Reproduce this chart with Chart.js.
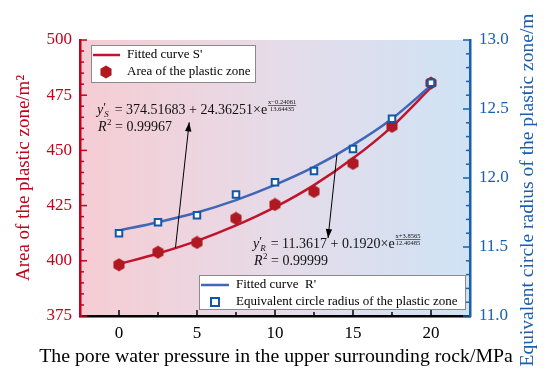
<!DOCTYPE html>
<html>
<head>
<meta charset="utf-8">
<script src="https://cdn.jsdelivr.net/npm/chart.js@4.4.1/dist/chart.umd.min.js"></script>
<style>
html,body{margin:0;padding:0;background:#fff;}
#wrap{width:550px;height:380px;position:relative;}
</style>
</head>
<body>
<div id="wrap"><canvas id="c" width="550" height="380"></canvas></div>
<script>
// ---- data ----
const xValues = [0, 2.5, 5, 7.5, 10, 12.5, 15, 17.5, 20];
const areaPoints = [398.2, 403.9, 408.3, 419.2, 425.5, 431.4, 444.1, 460.9, 480.5];
const radiusPoints = [11.60, 11.68, 11.73, 11.88, 11.97, 12.05, 12.21, 12.43, 12.69];
const areaCurve = [398.5, 403.3, 409.0, 416.0, 424.3, 434.3, 446.4, 460.8, 478.5];
const radiusCurve = [11.62, 11.68, 11.75, 11.84, 11.95, 12.08, 12.24, 12.43, 12.67];
const xTickLabels = [0, 5, 10, 15, 20];
const leftTickLabels = [375, 400, 425, 450, 475, 500];
const rightTickLabels = [11.0, 11.5, 12.0, 12.5, 13.0];

const RED = '#c0142c';
const RED_PT = '#b01822';
const BLUE_LINE = '#4166b8';
const BLUE_PT = '#0f58a8';
const AXIS_RED = '#c3001e';
const AXIS_BLUE = '#1a5fae';
const SERIF = '"Liberation Serif", "DejaVu Serif", serif';

function pts(xs, ys){ return xs.map((x,i)=>({x:x, y:ys[i]})); }

// hexagon point image
const hex = document.createElement('canvas');
hex.width = 14; hex.height = 14;
(function(){
  const c = hex.getContext('2d');
  c.fillStyle = RED_PT;
  c.beginPath();
  for (let i=0;i<6;i++){
    const a = Math.PI/6 + i*Math.PI/3;
    const px = 7 + 6.4*Math.cos(a), py = 7 + 6.4*Math.sin(a);
    i ? c.lineTo(px,py) : c.moveTo(px,py);
  }
  c.closePath(); c.fill();
})();

function isMult(v, m){ return Math.abs(v/m - Math.round(v/m)) < 1e-6; }

const decor = {
  id: 'decor',
  beforeDraw(chart){
    const {ctx, chartArea:a} = chart;
    const g = ctx.createLinearGradient(a.left,0,a.right,0);
    g.addColorStop(0,'#f6ccd3');
    g.addColorStop(0.5,'#e6dbe8');
    g.addColorStop(1,'#cfe3f5');
    ctx.save(); ctx.fillStyle = g;
    ctx.fillRect(a.left, a.top, a.right-a.left, a.bottom-a.top);
    ctx.restore();
  },
  afterDraw(chart){
    const {ctx, chartArea:a, scales} = chart;
    const sx = scales.x, sy = scales.y, sy1 = scales.y1;
    ctx.save();
    // inward ticks
    ctx.lineWidth = 1.5;
    ctx.strokeStyle = '#000';
    sx.ticks.forEach(t=>{
      const px = sx.getPixelForValue(t.value);
      const len = isMult(t.value,5) ? 6 : 4;
      ctx.beginPath(); ctx.moveTo(px, a.bottom); ctx.lineTo(px, a.bottom-len); ctx.stroke();
    });
    ctx.strokeStyle = AXIS_RED;
    sy.ticks.forEach(t=>{
      const py = sy.getPixelForValue(t.value);
      const len = isMult(t.value,25) ? 7 : 4;
      ctx.beginPath(); ctx.moveTo(a.left, py); ctx.lineTo(a.left+len, py); ctx.stroke();
    });
    ctx.strokeStyle = AXIS_BLUE;
    sy1.ticks.forEach(t=>{
      const py = sy1.getPixelForValue(t.value);
      const len = isMult(t.value,0.5) ? 7 : 4;
      ctx.beginPath(); ctx.moveTo(a.right, py); ctx.lineTo(a.right-len, py); ctx.stroke();
    });

    // axis titles
    ctx.textAlign = 'center'; ctx.textBaseline = 'middle';
    ctx.font = '19.8px ' + SERIF;
    ctx.fillStyle = '#000';
    ctx.fillText('The pore water pressure in the upper surrounding rock/MPa', 276, 357);
    ctx.save();
    ctx.translate(24, 178); ctx.rotate(-Math.PI/2);
    ctx.fillStyle = AXIS_RED; ctx.font = '19px ' + SERIF;
    ctx.fillText('Area of the plastic zone/m\u00B2', 0, 0);
    ctx.restore();
    ctx.save();
    ctx.translate(528, 190); ctx.rotate(-Math.PI/2);
    ctx.fillStyle = AXIS_BLUE; ctx.font = '19.5px ' + SERIF;
    ctx.fillText('Equivalent circle radius of the plastic zone/m', 0, 0);
    ctx.restore();

    // legends
    function legendBox(x,y,w,h){
      ctx.fillStyle = '#fff'; ctx.fillRect(x,y,w,h);
      ctx.strokeStyle = '#8a8a8a'; ctx.lineWidth = 1; ctx.strokeRect(x+0.5,y+0.5,w,h);
    }
    legendBox(91,45,164,37);
    ctx.strokeStyle = RED; ctx.lineWidth = 2.5;
    ctx.beginPath(); ctx.moveTo(93,55); ctx.lineTo(120,55); ctx.stroke();
    ctx.drawImage(hex, 99, 65);
    ctx.fillStyle = '#000'; ctx.font = '13px ' + SERIF; ctx.textAlign = 'left';
    ctx.fillText("Fitted curve S'", 127, 55);
    ctx.fillText('Area of the plastic zone', 127, 72);

    legendBox(199,275,266,34);
    ctx.strokeStyle = BLUE_LINE; ctx.lineWidth = 2.5;
    ctx.beginPath(); ctx.moveTo(201,285); ctx.lineTo(229,285); ctx.stroke();
    ctx.strokeStyle = BLUE_PT; ctx.lineWidth = 2; ctx.fillStyle = '#fff';
    ctx.fillRect(211,298,8,8); ctx.strokeRect(211,298,8,8);
    ctx.fillStyle = '#000'; ctx.font = '13px ' + SERIF;
    ctx.fillText("Fitted curve  R'", 236, 285);
    ctx.fillText('Equivalent circle radius of the plastic zone', 236, 302);

    // equations
    function equation(x, base, sub, body, num, den, r2){
      ctx.textBaseline = 'alphabetic'; ctx.textAlign = 'left'; ctx.fillStyle = '#111';
      ctx.font = 'italic 14px ' + SERIF;
      ctx.fillText('y', x, base);
      let cx = x + ctx.measureText('y').width;
      ctx.font = '13px ' + SERIF;
      ctx.fillText('\u2032', cx, base-3);
      ctx.font = 'italic 9px ' + SERIF;
      ctx.fillText(sub, cx+1, base+3);
      cx += 8;
      ctx.font = '14px ' + SERIF;
      ctx.fillText(body, cx, base);
      cx += ctx.measureText(body).width + 1;
      ctx.font = '6.5px ' + SERIF;
      const wn = ctx.measureText(num).width, wd = ctx.measureText(den).width;
      const w = Math.max(wn, wd);
      ctx.textAlign = 'center';
      ctx.fillText(num, cx + w/2, base-10);
      ctx.fillText(den, cx + w/2, base-3);
      ctx.strokeStyle = '#111'; ctx.lineWidth = 0.6;
      ctx.beginPath(); ctx.moveTo(cx, base-8.5); ctx.lineTo(cx+w, base-8.5); ctx.stroke();
      ctx.textAlign = 'left';
      ctx.font = 'italic 14px ' + SERIF;
      ctx.fillText('R', x+1, base+17);
      let rx = x + 1 + ctx.measureText('R').width;
      ctx.font = '9px ' + SERIF;
      ctx.fillText('2', rx+0.5, base+11);
      ctx.font = '14px ' + SERIF;
      ctx.fillText(' = ' + r2, rx+5, base+17);
    }
    equation(97, 114, 'S', ' = 374.51683 + 24.36251\u00D7e', 'x\u22120.24061', '13.64435', '0.99967');
    equation(253, 248, 'R', ' = 11.3617 + 0.1920\u00D7e', 'x+3.8565', '12.40485', '0.99999');

    // arrows
    function arrow(x1,y1,x2,y2){
      ctx.strokeStyle = '#000'; ctx.fillStyle = '#000'; ctx.lineWidth = 1;
      ctx.beginPath(); ctx.moveTo(x1,y1); ctx.lineTo(x2,y2); ctx.stroke();
      const ang = Math.atan2(y2-y1, x2-x1), L = 9, W = 3.2;
      ctx.beginPath();
      ctx.moveTo(x2,y2);
      ctx.lineTo(x2 - L*Math.cos(ang) + W*Math.sin(ang), y2 - L*Math.sin(ang) - W*Math.cos(ang));
      ctx.lineTo(x2 - L*Math.cos(ang) - W*Math.sin(ang), y2 - L*Math.sin(ang) + W*Math.cos(ang));
      ctx.closePath(); ctx.fill();
    }
    arrow(sx.getPixelForValue(3.62), sy.getPixelForValue(405.9), sx.getPixelForValue(4.5), sy.getPixelForValue(462.7));
    arrow(sx.getPixelForValue(13.97), sy1.getPixelForValue(12.17), sx.getPixelForValue(13.4), sy1.getPixelForValue(11.565));
    ctx.restore();
  }
};

new Chart(document.getElementById('c'), {
  type: 'scatter',
  data: {
    datasets: [
      { label: 'Equivalent circle radius of the plastic zone', data: pts(xValues, radiusPoints), yAxisID: 'y1',
        showLine: false, pointStyle: 'rect', pointRadius: 4.6, pointBorderWidth: 2,
        borderColor: BLUE_PT, backgroundColor: '#ffffff', pointBorderColor: BLUE_PT, pointBackgroundColor: '#ffffff' },
      { label: 'Area of the plastic zone', data: pts(xValues, areaPoints), yAxisID: 'y',
        showLine: false, pointStyle: hex, pointRadius: 7 },
      { label: "Fitted curve  R'", data: pts(xValues, radiusCurve), yAxisID: 'y1',
        showLine: true, borderColor: BLUE_LINE, borderWidth: 2.5, pointRadius: 0, cubicInterpolationMode: 'monotone' },
      { label: "Fitted curve S'", data: pts(xValues, areaCurve), yAxisID: 'y',
        showLine: true, borderColor: RED, borderWidth: 2.5, pointRadius: 0, cubicInterpolationMode: 'monotone' }
    ]
  },
  options: {
    responsive: false, animation: false,
    layout: { padding: { top: 40, left: 0, right: 0, bottom: 0 } },
    plugins: { legend: { display: false }, tooltip: { enabled: false } },
    scales: {
      x: { type: 'linear', min: -2.5, max: 22.5,
        afterFit(s){ s.height = 64; },
        afterBuildTicks(s){ const t=[]; for(let v=0; v<=20.001; v+=2.5) t.push({value:v}); s.ticks = t; },
        ticks: { autoSkip: false, padding: 7, color: '#000', font: { family: SERIF, size: 17 },
          callback: v => xTickLabels.includes(v) ? String(v) : '' },
        grid: { display: true, drawOnChartArea: false, drawTicks: false },
        border: { display: true, color: '#000', width: 2.5 } },
      y: { type: 'linear', position: 'left', min: 375, max: 500,
        afterFit(s){ s.width = 80; },
        afterBuildTicks(s){ const t=[]; for(let v=375; v<=500.001; v+=5) t.push({value:v}); s.ticks = t; },
        ticks: { autoSkip: false, padding: 8, color: AXIS_RED, font: { family: SERIF, size: 17 },
          callback: v => leftTickLabels.includes(v) ? String(v) : '' },
        grid: { display: true, drawOnChartArea: false, drawTicks: false },
        border: { display: true, color: AXIS_RED, width: 2.5 } },
      y1: { type: 'linear', position: 'right', min: 11, max: 13,
        afterFit(s){ s.width = 80; },
        afterBuildTicks(s){ const t=[]; for(let i=0; i<=20; i++) t.push({value: 11 + i/10}); s.ticks = t; },
        ticks: { autoSkip: false, padding: 9, color: AXIS_BLUE, font: { family: SERIF, size: 17 },
          callback: v => rightTickLabels.some(r => Math.abs(r - v) < 1e-6) ? v.toFixed(1) : '' },
        grid: { display: true, drawOnChartArea: false, drawTicks: false },
        border: { display: true, color: AXIS_BLUE, width: 2.5 } }
    }
  },
  plugins: [decor]
});
</script>
</body>
</html>
